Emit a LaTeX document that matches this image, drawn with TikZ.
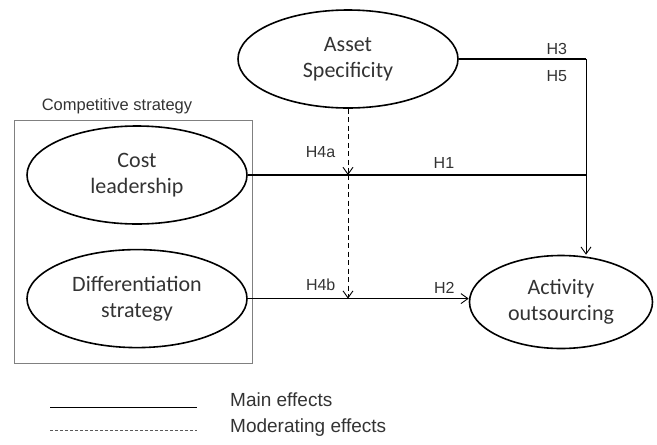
\documentclass[tikz,border=0pt]{standalone}
\usepackage{fontspec}
\setmainfont{Liberation Sans}
\newfontfamily\calibri{Carlito}
\usetikzlibrary{positioning, shapes.geometric, arrows.meta}

\definecolor{textgray}{HTML}{333333}

\tikzset{
	construct/.style={ellipse, draw, line width=1.6pt, minimum width=220pt, minimum height=98pt,
		inner sep=0pt, align=center, text=textgray, font=\calibri\fontsize{22}{26.5}\selectfont},
	hyp/.style={font=\fontsize{16}{18}\selectfont, text=textgray, inner sep=1pt},
	legendtext/.style={font=\fontsize{19}{22}\selectfont, text=textgray, anchor=west, inner sep=0pt},
	main/.style={line width=1.3pt},
	path/.style={line width=0.9pt},
	moderate/.style={dashed, dash pattern=on 5pt off 3.5pt, line width=0.9pt},
	tip/.style={-{Straight Barb[length=7pt, width=10pt]}}
}

\begin{document}
\begin{tikzpicture}[x=1pt, y=-1pt]
	\useasboundingbox (0,0) rectangle (657,445);

	% constructs
	\node[construct] 			(asset)	at (348,59)			{Asset\\Specificity};
	\node[construct] 			(cost)	at (137,175)		{Cost\\leadership};
	\node[construct] 			(diff)	[below=24pt of cost]	{Differentiation\\strategy};
	\node[construct, minimum width=183pt, minimum height=93pt]
								(act)	at (561,302)		{Activity\\outsourcing};

	% competitive strategy group
	\node[draw=gray, line width=0.8pt, minimum width=238pt, minimum height=243pt, inner sep=0pt]
								(group)	at (133,241.5)		{};
	\node[font=\fontsize{16.5}{18}\selectfont, text=textgray] (grouplbl) at (117,106) {Competitive strategy};

	\coordinate (corner)	at (586,59);
	\coordinate (join)		at (586,175);
	\coordinate (mod1)		at (asset.south |- cost.east);
	\coordinate (mod2)		at (asset.south |- diff.east);

	% main effects
	\draw[main] (asset.east) -- (corner)
		node[hyp, pos=0.77, above=3pt] {H3}
		node[hyp, pos=0.77, below=10pt] {H5};
	\draw[path, tip] (corner) -- (corner |- act.north);
	\draw[main] (cost.east) -- (join)
		node[hyp, pos=0.215, above=16pt] {H4a}
		node[hyp, pos=0.58, above=5pt] {H1};
	\draw[path, tip] (diff.east) -- (diff.east -| act.west)
		node[hyp, pos=0.33, above=6pt] {H4b}
		node[hyp, pos=0.89, above=4pt] {H2};

	% moderating effects
	\draw[moderate, tip] (asset.south) -- (mod1);
	\draw[moderate, tip] (mod1) -- (mod2);

	% legend
	\coordinate (mainA)	at (50,407);
	\coordinate (mainB)	at (197,407);
	\coordinate (modA)	at (50,430);
	\coordinate (modB)	at (197,430);
	\draw[path] (mainA) -- (mainB);
	\draw[moderate, gray!70!black, line width=0.6pt, dash pattern=on 3pt off 2pt] (modA) -- (modB);
	\node[legendtext] (mainlbl)	at (230,400) {Main effects};
	\node[legendtext] (modlbl)	at (230,428) {Moderating effects};
\end{tikzpicture}
\end{document}
